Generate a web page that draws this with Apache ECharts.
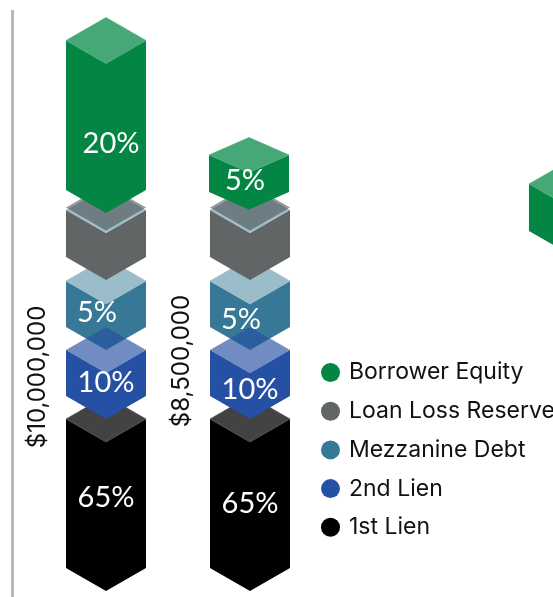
<!DOCTYPE html>
<html>
<head>
<meta charset="utf-8">
<style>
  html, body { margin: 0; padding: 0; background: #fff; }
  #main { width: 553px; height: 597px; }
</style>
<script src="https://cdn.jsdelivr.net/npm/echarts@6/dist/echarts.min.js"></script>
</head>
<body>
<div id="main"></div>
<script>
// columns, on a value axis so the third one can sit far to the right
const columnPos = [0, 1, 3.215];
const equityColumnPos = [0, 0.993, 3.215];

// block [bottom, top] per column (not proportional to the %)
const firstLien = [[0, 149], [0, 149]];
const secondLien = [[172, 218], [172, 218]];
const mezzanine = [[241, 287], [241, 287]];
const lossReserve = [[311, 358], [311, 358]];
const borrowerEquity = [[378, 527.5], [376, 413], [337, 384]];

// percent labels
const firstLienPct = ['65%', '65%'];
const secondLienPct = ['10%', '10%'];
const mezzaninePct = ['5%', '5%'];
const lossReservePct = ['', ''];
const borrowerEquityPct = ['20%', '5%', ''];

// deal totals on the side of each column
const totalLabels = ['$10,000,000', '$8,500,000'];
const totalLabelX = [-0.472, 0.528];
const totalLabelY = [191, 207];

const legendNames = ['Borrower Equity', 'Loan Loss Reserve', 'Mezzanine Debt', '2nd Lien', '1st Lien'];

const BLOCK_WIDTH = 80 / 144;
const TOP_DEPTH = 23;

function blockSeries(cfg) {
  return {
    type: 'custom',
    name: cfg.name,
    clip: false,
    silent: true,
    color: cfg.color,
    itemStyle: { color: cfg.color },
    encode: { x: 0, y: [1, 2] },
    data: cfg.edges.map(function (e, i) { return [cfg.pos[i], e[0], e[1], i]; }),
    renderItem: function (params, api) {
      const i = api.value(3);
      const x = api.coord([api.value(0), 0])[0];
      const yLow = api.coord([0, api.value(1)])[1];
      const yHigh = api.coord([0, api.value(2)])[1];
      const hw = api.size([BLOCK_WIDTH, 0])[0] / 2;
      const d = api.size([0, cfg.depths ? cfg.depths[i] : TOP_DEPTH])[1];
      const children = [];
      const poly = function (points, fill, seal) {
        const style = { fill: fill };
        // thin stroke hides the pale antialiasing seam between faces
        if (seal) { style.stroke = fill; style.lineWidth = 0.6; }
        children.push({ type: 'polygon', shape: { points: points }, style: style });
      };
      const diamond = function (y) {
        return [[x - hw, y], [x, y - d], [x + hw, y], [x, y + d]];
      };
      poly([[x - hw, yHigh], [x, yHigh + d], [x + hw, yHigh], [x + hw, yLow], [x, yLow + d], [x - hw, yLow]], cfg.color);
      if (cfg.outlined) {
        // the reserve block has a doubled top: grey edge behind, pale blue edge in front
        const shift = 2.5;
        const inset = hw * shift / (2 * d);
        poly(diamond(yHigh - shift), '#979a9b');
        poly(diamond(yHigh), '#9bbcc9');
        poly([[x - hw + inset, yHigh - shift / 2], [x, yHigh - d], [x + hw - inset, yHigh - shift / 2], [x, yHigh + d - shift]], '#6e7d82');
      } else {
        poly(diamond(yHigh), cfg.topColor, cfg.topColor.charAt(0) === '#');
      }
      const text = cfg.pct[i];
      if (text) {
        const nudge = cfg.nudge[i];
        children.push({
          type: 'text',
          x: x + nudge[0],
          y: (yLow + yHigh) / 2 + nudge[1],
          style: { text: text, fill: '#fff', font: '29px Lato', textAlign: 'center', textVerticalAlign: 'middle' }
        });
      }
      return { type: 'group', children: children };
    }
  };
}

// draw order matters: 2nd lien top sits over the mezzanine, equity over the reserve
const blocks = [
  { name: '1st Lien', edges: firstLien, pos: columnPos, color: '#000000', topColor: '#434343', pct: firstLienPct, nudge: [[0, 4.5], [0, 10.5]] },
  { name: 'Mezzanine Debt', edges: mezzanine, pos: columnPos, color: '#367896', topColor: '#9bbcc9', pct: mezzaninePct, nudge: [[-9, 9], [-9, 16]] },
  { name: '2nd Lien', edges: secondLien, pos: columnPos, color: '#2650a3', topColor: 'rgba(38,80,163,0.66)', pct: secondLienPct, nudge: [[0, 10], [0, 17]] },
  { name: 'Loan Loss Reserve', edges: lossReserve, pos: columnPos, color: '#626566', outlined: true, pct: lossReservePct, nudge: [[0, 0], [0, 0]] },
  { name: 'Borrower Equity', edges: borrowerEquity, pos: equityColumnPos, color: '#038543', topColor: '#47a877', pct: borrowerEquityPct, depths: [23, 17.5, 23], nudge: [[5, 28], [-4, 7.5], [0, 0]] }
];

const totalsSeries = {
  type: 'custom',
  clip: false,
  silent: true,
  data: totalLabels.map(function (t, i) { return [totalLabelX[i], totalLabelY[i], i]; }),
  encode: { x: 0, y: 1 },
  renderItem: function (params, api) {
    const p = api.coord([api.value(0), api.value(1)]);
    return {
      type: 'text',
      x: p[0],
      y: p[1],
      rotation: Math.PI / 2,
      style: { text: totalLabels[api.value(2)], fill: '#111', font: '24px Inter', textAlign: 'center', textVerticalAlign: 'middle' }
    };
  }
};

const myChart = echarts.init(document.getElementById('main'));
myChart.setOption({
  animation: false,
  backgroundColor: '#fff',
  grid: { left: 0, top: 0, width: 553, height: 568 },
  xAxis: { type: 'value', min: -106 / 144, max: (553 - 106) / 144, show: false },
  yAxis: { type: 'value', min: 0, max: 568, show: false },
  legend: {
    orient: 'vertical',
    left: 316,
    top: 356,
    icon: 'circle',
    itemWidth: 19,
    itemHeight: 19,
    itemGap: 15.7,
    selectedMode: false,
    data: legendNames,
    textStyle: { color: '#111', fontFamily: 'Inter', fontSize: 23, padding: [0, 0, 0, 4] }
  },
  graphic: [
    { type: 'rect', left: 11, top: 10, shape: { width: 3, height: 587 }, style: { fill: '#b8b8b8' } }
  ],
  series: blocks.map(blockSeries).concat([totalsSeries])
});
</script>
</body>
</html>
